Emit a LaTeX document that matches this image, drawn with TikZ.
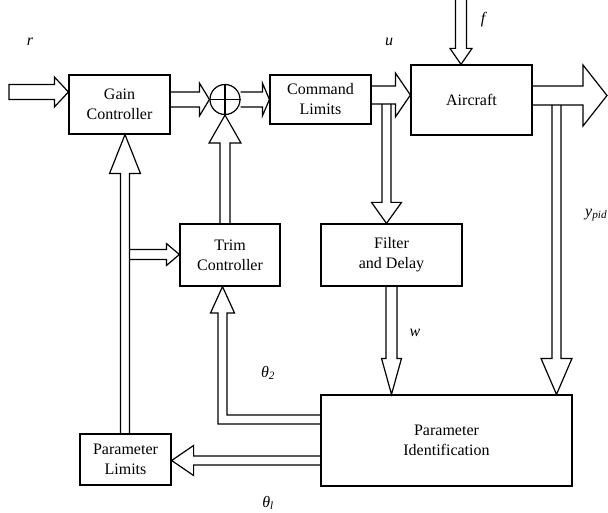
\documentclass[tikz,border=0pt]{standalone}
\usepackage{fontspec}
\setmainfont{Liberation Serif}
\usetikzlibrary{calc}
\tikzset{
  blockarrow/.style={draw=black, line width=1.2pt, line join=miter},
  boxnode/.style={draw=black, line width=1.2pt, align=center, inner sep=0pt,
    font=\fontsize{16}{20}\selectfont},
  lbl/.style={font=\fontsize{16}{20}\selectfont\itshape, inner sep=0pt},
}
% #1 extra path end (e.g. -- cycle), #2 start, #3 tip, #4 shaft half width, #5 head half width, #6 head length
\newcommand\fatarrow[6][]{%
  \coordinate (fahead) at ($(#3)!#6!(#2)$);
  \draw[blockarrow] ($(#2)!#4!90:(#3)$) -- ($(fahead)!#4!90:(#3)$) -- ($(fahead)!#5!90:(#3)$) -- (#3)
    -- ($(fahead)!#5!-90:(#3)$) -- ($(fahead)!#4!-90:(#3)$) -- ($(#2)!#4!-90:(#3)$) #1;
}
\begin{document}
\begin{tikzpicture}[x=1pt,y=-1pt]
\useasboundingbox (0,0) rectangle (608,513);

% boxes
\node[boxnode, minimum width=101pt, minimum height=59pt] (gain) at (119.5,104.5) {Gain\\Controller};
\node[boxnode, minimum width=101pt, minimum height=49pt] (cmd) at (320.5,99.5) {Command\\Limits};
\node[boxnode, minimum width=121pt, minimum height=70pt] (air) at (471.5,100) {Aircraft};
\node[boxnode, minimum width=100pt, minimum height=62pt] (trim) at (230,255) {Trim\\Controller};
\node[boxnode, minimum width=141pt, minimum height=62pt] (filt) at (391.5,255) {Filter\\and Delay};
\node[boxnode, minimum width=251pt, minimum height=91pt] (pid) at (446.5,440.5) {Parameter\\Identification};
\node[boxnode, minimum width=91pt, minimum height=51pt] (plim) at (125.5,459.5) {Parameter\\Limits};
\node[draw=black, line width=1.2pt, circle, minimum size=30pt, inner sep=0pt] (sum) at (225,99.5) {};
\draw[line width=1.2pt] (sum.north) -- (sum.south) (sum.west) -- (sum.east);

% labels
\node[lbl] (lr) at (30,42) {r};
\node[lbl] (lu) at (389,42) {u};
\node[lbl] (lf) at (483,20) {f};
\node[lbl] (lw) at (415,333) {w};
\node[lbl, anchor=west] (ly) at (585,215) {y\textsubscript{pid}};
\node[lbl] (lt2) at (268,373) {θ\textsubscript{2}};
\node[lbl] (lt1) at (268,503) {θ\textsubscript{l}};

% arrow coordinates
\coordinate (rin) at (9,92);
\coordinate (rtip) at (gain.west |- rin);
\fatarrow[-- cycle]{rin}{rtip}{7.5pt}{15pt}{14pt}

\coordinate (gs) at (gain.east |- sum);
\fatarrow{gs}{sum.west}{7.5pt}{16.5pt}{10pt}

\fatarrow{sum.east}{cmd.west}{7.5pt}{16.5pt}{7pt}

\coordinate (ca0) at ($(cmd.east)+(0,-4.5)$);
\coordinate (ca1) at (air.west |- ca0);
\fatarrow{ca0}{ca1}{9pt}{22pt}{15pt}

\coordinate (f0) at (461,-3);
\coordinate (f1) at (air.north -| f0);
\fatarrow{f0}{f1}{5.5pt}{11pt}{16pt}

\coordinate (ao0) at ($(air.east)+(0,-4.5)$);
\coordinate (ao1) at (607,95.5);
\fatarrow{ao0}{ao1}{9.5pt}{30.5pt}{24pt}

\coordinate (fd0) at (386.5,104);
\coordinate (fd1) at (filt.north -| fd0);
\fatarrow{fd0}{fd1}{4.5pt}{15pt}{21pt}

\coordinate (w1) at (pid.north -| filt.south);
\fatarrow{filt.south}{w1}{5.5pt}{10pt}{36pt}

\coordinate (yp0) at (556.5,105);
\coordinate (yp1) at (pid.north -| yp0);
\fatarrow{yp0}{yp1}{4.5pt}{15.5pt}{36pt}

\coordinate (t10) at (pid.west |- 0,460.5);
\coordinate (t11) at (plim.east |- t10);
\fatarrow{t10}{t11}{4.5pt}{15pt}{22pt}

\coordinate (pl0) at (125,434);
\coordinate (pl1) at (gain.south -| pl0);
\fatarrow{pl0}{pl1}{4.5pt}{15.5pt}{39pt}

\coordinate (br0) at (129.5,254.5);
\coordinate (br1) at (trim.west |- br0);
\fatarrow{br0}{br1}{5pt}{11pt}{13pt}

\coordinate (ts0) at (trim.north -| sum);
\fatarrow{ts0}{sum.south}{5pt}{16pt}{28pt}

% theta2 bent arrow
\draw[blockarrow] (pid.west |- 0,415) -- (227,415) -- (227,313) -- (234.5,313) -- (trim.south -| 222.5,0)
  -- (210.5,313) -- (218,313) -- (218,424) -- (pid.west |- 0,424);
\end{tikzpicture}
\end{document}
